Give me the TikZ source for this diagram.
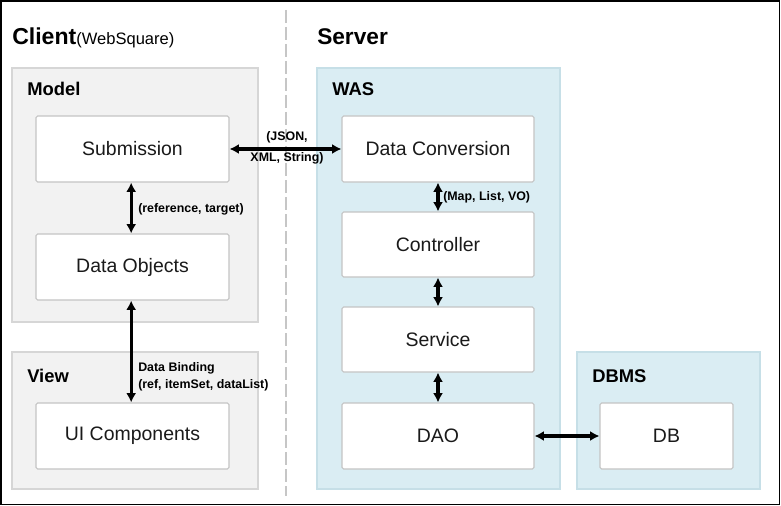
\documentclass[tikz,border=0pt]{standalone}
\usepackage{fontspec}
\setmainfont{Liberation Sans}
\usetikzlibrary{arrows.meta}
\definecolor{panelgray}{HTML}{F2F2F2}
\definecolor{panelgrayline}{HTML}{D6D6D6}
\definecolor{panelblue}{HTML}{DAEDF3}
\definecolor{panelblueline}{HTML}{C6DFE7}
\definecolor{boxline}{HTML}{C4C4C4}
\definecolor{dashgray}{HTML}{C6C6C6}
\definecolor{txt}{HTML}{1A1A1A}
\tikzset{
  graypanel/.style={fill=panelgray,draw=panelgrayline,line width=0.8pt},
  bluepanel/.style={fill=panelblue,draw=panelblueline,line width=0.8pt},
  compbox/.style={draw=boxline,fill=white,line width=0.8pt,rounded corners=1.2pt,
    minimum width=144.75pt,minimum height=49.5pt,inner sep=0pt,
    font=\fontsize{14.6}{17}\selectfont,text=txt},
  paneltitle/.style={anchor=base west,inner sep=0pt,font=\fontsize{13.8}{16}\selectfont\bfseries},
  lbl/.style={inner sep=0pt,font=\fontsize{9.3}{12}\selectfont\bfseries},
  biarrow/.style={line width=2.3pt,{Latex[length=7pt,width=7.5pt]}-{Latex[length=7pt,width=7.5pt]}},
}
\begin{document}
\begin{tikzpicture}[x=0.75pt,y=-0.75pt]
\useasboundingbox (0,0) rectangle (781,506);
% panels
\draw[graypanel] (12,68) rectangle (258,322);
\draw[graypanel] (12,352) rectangle (258,489);
\draw[bluepanel] (317,68) rectangle (560,489);
\draw[bluepanel] (577,352) rectangle (760,489);
% divider
\draw[dashgray,line width=1.9pt,dash pattern=on 9.75pt off 3pt] (286,10) -- (286,496);
% titles
\node[anchor=base west,inner sep=0pt] (tclient) at (12,45)
  {{\fontsize{17.3}{20}\selectfont\bfseries Client}{\fontsize{12.4}{14}\selectfont(WebSquare)}};
\node[anchor=base west,inner sep=0pt,font=\fontsize{17}{20}\selectfont\bfseries] (tserver) at (317,45) {Server};
\node[paneltitle] (tmodel) at (27,96) {Model};
\node[paneltitle] (tview) at (27,382) {View};
\node[paneltitle] (twas) at (332,96) {WAS};
\node[paneltitle] (tdbms) at (592,382) {DBMS};
% boxes
\node[compbox] (sub) at (132.5,149) {Submission};
\node[compbox] (dobj) at (132.5,267) {Data Objects};
\node[compbox] (ui) at (132.5,436) {UI Components};
\node[compbox,minimum width=144pt] (dc) at (438,149) {Data Conversion};
\node[compbox,minimum width=144pt,minimum height=48.75pt] (ctrl) at (438,244.5) {Controller};
\node[compbox,minimum width=144pt,minimum height=48.75pt] (svc) at (438,339.5) {Service};
\node[compbox,minimum width=144pt] (dao) at (438,436) {DAO};
\node[compbox,minimum width=99.75pt] (db) at (666.5,436) {DB};
% connectors
\draw[biarrow] (sub.east) -- (dc.west);
\draw[biarrow] ([xshift=-1pt]sub.south) -- ([xshift=-1pt]dobj.north);
\draw[biarrow] ([xshift=-1pt]dobj.south) -- ([xshift=-1pt]ui.north);
\draw[biarrow] (dc.south) -- (ctrl.north);
\draw[biarrow] (ctrl.south) -- (svc.north);
\draw[biarrow] (svc.south) -- (dao.north);
\draw[biarrow] (dao.east) -- (db.west);
% labels
\node[lbl] (ljson) at (287,137) {(JSON,};
\node[lbl] (lxml) at (287,158) {XML, String)};
\node[lbl,anchor=west] (lref) at (138,209) {(reference, target)};
\node[lbl,anchor=west] (lbind) at (138,368) {Data Binding};
\node[lbl,anchor=west] (lrefs) at (138,385) {(ref, itemSet, dataList)};
\node[lbl,anchor=west] (lmap) at (443,197) {(Map, List, VO)};
% outer border
\draw[black,line width=1.1pt] (1,1) rectangle (779.5,504.5);
\end{tikzpicture}
\end{document}
